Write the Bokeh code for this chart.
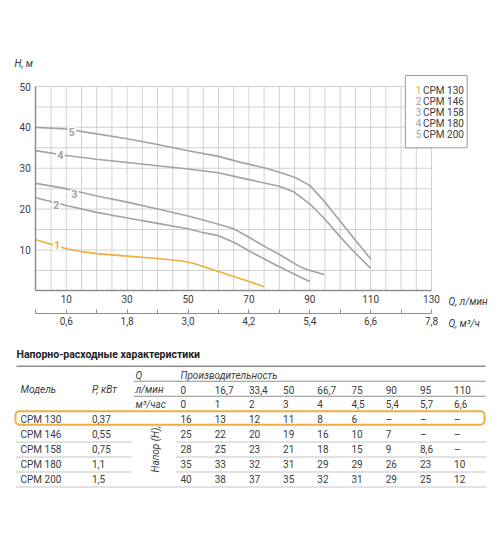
from math import pi

from bokeh.core.properties import value
from bokeh.embed import file_html
from bokeh.models import FixedTicker, LinearAxis, Range1d
from bokeh.plotting import figure
from bokeh.resources import INLINE

FONT = "Roboto"
TXT = "#3c3c3c"
GRAY = "#a3a3a3"
ORANGE = "#f0ae3e"
AXIS = "#8f8f8f"
GRID = "#d2d2d2"
DOT = "#8a8a8a"

# --- данные графика (Q, л/мин -> H, м) ---
q1 = [0, 5, 10, 15, 20, 30, 40, 48, 52, 60, 70, 75]
h1 = [12.5, 11.4, 10.3, 9.6, 9.1, 8.5, 7.9, 7.3, 6.7, 4.7, 2.3, 1.0]
q2 = [0, 10, 20, 30, 40, 50, 54, 60, 65, 70, 76, 80, 87, 90]
h2 = [22.8, 20.9, 19.2, 17.8, 16.5, 15.2, 14.4, 13.5, 11.9, 9.8, 7.4, 5.9, 3.3, 2.3]
q3 = [0, 10, 20, 30, 40, 50, 54, 60, 65, 70, 76, 80, 87, 90, 94.7]
h3 = [26.3, 25.0, 23.2, 21.7, 20.0, 18.3, 17.5, 16.3, 15.2, 13.1, 10.5, 8.9, 5.8, 5.0, 4.0]
q4 = [0, 10, 20, 30, 40, 50, 60, 67, 75, 80, 85, 90, 95, 100, 105, 110]
h4 = [34.3, 33.1, 32.2, 31.4, 30.6, 29.8, 28.9, 27.7, 26.4, 25.6, 24.1, 21.3, 17.5, 13.2, 9.2, 5.5]
q5 = [0, 10, 20, 30, 40, 50, 60, 67, 75, 80, 85, 90, 95, 100, 105, 110]
h5 = [40.0, 39.6, 38.4, 37.2, 35.8, 34.3, 32.9, 31.5, 30.1, 29.0, 27.8, 25.8, 21.7, 17.0, 12.4, 7.8]

curve_nums = ["1", "2", "3", "4", "5"]
curve_lab_q = [7.0, 6.7, 12.7, 8.1, 11.8]
curve_lab_h = [11.2, 21.0, 23.6, 33.2, 38.9]
models = ["CPM 130", "CPM 146", "CPM 158", "CPM 180", "CPM 200"]

q_ticks = [10, 30, 50, 70, 90, 110, 130]
q_minor = [0, 20, 40, 60, 80, 100, 120]
m3h_labels = ["0,6", "1,8", "3,0", "4,2", "5,4", "6,6", "7,8"]
h_ticks = [10, 20, 30, 40, 50]
grid_q = list(range(5, 131, 5))
grid_h = list(range(5, 51, 5))

# --- данные таблицы ---
power = ["0,37", "0,55", "0,75", "1,1", "1,5"]
flow_lpm = ["0", "16,7", "33,4", "50", "66,7", "75", "90", "95", "110"]
flow_m3h = ["0", "1", "2", "3", "4", "4,5", "5,4", "5,7", "6,6"]
head_rows = [
    ["16", "13", "12", "11", "8", "6", "–", "–", "–"],
    ["25", "22", "20", "19", "16", "10", "7", "–", "–"],
    ["28", "25", "23", "21", "18", "15", "9", "8,6", "–"],
    ["35", "33", "32", "31", "29", "29", "26", "23", "10"],
    ["40", "38", "37", "35", "32", "31", "29", "25", "12"],
]

# ================= график =================
# рамка на весь холст, оси закреплены внутри (fixed_location)
p = figure(width=500, height=340, x_range=Range1d(-11.6, 152.66), y_range=Range1d(-12.16, 71.05),
           x_axis_type=None, y_axis_type=None, output_backend="svg", toolbar_location=None,
           min_border_left=0, min_border_right=0, min_border_top=0, min_border_bottom=0,
           outline_line_color=None)

# сетка через 5 единиц (тонкие полосы ~1px), только в пределах 0..130 / 0..50
p.quad(left=[q - 0.165 for q in grid_q], right=[q + 0.165 for q in grid_q],
       bottom=[0] * len(grid_q), top=[50] * len(grid_q), fill_color=GRID, line_color=None)
p.quad(left=[0] * len(grid_h), right=[130] * len(grid_h),
       bottom=[h - 0.123 for h in grid_h], top=[h + 0.123 for h in grid_h],
       fill_color=GRID, line_color=None)

axis_style = dict(major_tick_out=0, minor_tick_out=0, axis_line_color=AXIS,
                  major_tick_line_color=AXIS, minor_tick_line_color=AXIS,
                  major_label_text_font=FONT, major_label_text_font_size="10px",
                  major_label_text_color=TXT)

ay = LinearAxis(ticker=FixedTicker(ticks=h_ticks), bounds=(0, 50), fixed_location=0,
                major_tick_in=0, minor_tick_in=0, major_label_standoff=5, axis_line_width=1.5,
                **axis_style)
p.add_layout(ay, "left")

ax1 = LinearAxis(ticker=FixedTicker(ticks=q_ticks), bounds=(0, 130), fixed_location=0,
                 major_tick_in=0, minor_tick_in=0, major_label_standoff=4, axis_line_width=1.5,
                 **axis_style)
p.add_layout(ax1, "below")

ax2 = LinearAxis(ticker=FixedTicker(ticks=q_ticks, minor_ticks=q_minor), bounds=(0, 130),
                 fixed_location=-5.48, major_label_overrides=dict(zip(q_ticks, m3h_labels)),
                 major_tick_in=4, minor_tick_in=4, major_label_standoff=4, axis_line_width=1,
                 **axis_style)
p.add_layout(ax2, "below")

for qs, hs, col in [(q5, h5, GRAY), (q4, h4, GRAY), (q3, h3, GRAY), (q2, h2, GRAY), (q1, h1, ORANGE)]:
    p.line(qs, hs, line_color=col, line_width=1.6)

p.text(x=curve_lab_q, y=curve_lab_h, text=curve_nums, text_color=[ORANGE, GRAY, GRAY, GRAY, GRAY],
       text_font=value(FONT), text_font_size="11px", text_font_style="bold", text_align="center",
       text_baseline="middle", background_fill_color="white", padding=1)

# легенда
p.quad(left=[121.4], right=[141.7], top=[52.7], bottom=[35.0], fill_color="white",
       line_color="#9a9a9a", line_width=1)
leg_y = [49.1 - 2.7 * i for i in range(5)]
p.text(x=[124.8] * 5, y=leg_y, text=curve_nums, text_color=[ORANGE, GRAY, GRAY, GRAY, GRAY],
       text_font=value(FONT), text_font_size="10px", text_baseline="middle")
p.text(x=[127.2] * 5, y=leg_y, text=models, text_color=TXT,
       text_font=value(FONT), text_font_size="10px", text_baseline="middle")

# подписи осей
p.text(x=[-7.0, 135.6, 135.6], y=[55.6, -2.55, -8.0], text=["H, м", "Q, л/мин", "Q, м³/ч"],
       text_font=value(FONT), text_font_size="10px", text_font_style="italic", text_color=TXT,
       text_baseline="middle")

# ================= таблица =================
t = figure(width=500, height=192, x_range=Range1d(0, 500), y_range=Range1d(532, 340),
           x_axis_type=None, y_axis_type=None, output_backend="svg", toolbar_location=None,
           min_border_left=0, min_border_right=0, min_border_top=0, min_border_bottom=0,
           outline_line_color=None)
t.xgrid.visible = False
t.ygrid.visible = False

t.text(x=[16], y=[354], text=["Напорно-расходные характеристики"], text_color="#222",
       text_font=value(FONT), text_font_size="10.5px", text_font_style="bold", text_baseline="middle")

# сплошные линейки шапки
t.quad(left=[16, 133, 133], right=[485, 485, 485], top=[365, 380.2, 395.2], bottom=[366.6, 381.2, 396.2],
       fill_color=AXIS, line_color=None)
# пунктир между строками
for y, x0, x1 in [(441.5, 16, 132), (456.5, 16, 132), (471.5, 16, 132),
                  (441.5, 176, 485), (456.5, 176, 485), (471.5, 176, 485), (486.5, 16, 485)]:
    t.line([x0, x1], [y, y], line_color=DOT, line_width=1, line_dash="1 1")

col_x = [180 + 34.2 * i for i in range(len(flow_lpm))]
row_y = [418.7 + 15 * i for i in range(len(models))]

common = dict(text_font=value(FONT), text_font_size="10px", text_color=TXT, text_baseline="middle")
t.text(x=[155], y=[472], text=["Напор (Н), м"], angle=pi / 2, text_font_style="italic", **common)

t.quad(left=[15], right=[484], top=[410.7], bottom=[424.3], fill_color="white", line_color=ORANGE,
       line_width=2, border_radius=4)

t.text(x=[135, 180], y=[375, 375], text=["Q", "Производительность"], text_font_style="italic", **common)
t.text(x=[20, 91.5, 135], y=[389.3] * 3, text=["Модель", "P, кВт", "л/мин"], text_font_style="italic", **common)
t.text(x=[135], y=[403.7], text=["м³/час"], text_font_style="italic", **common)
t.text(x=col_x, y=[389.3] * len(col_x), text=flow_lpm, **common)
t.text(x=col_x, y=[403.7] * len(col_x), text=flow_m3h, **common)
t.text(x=[20] * 5, y=row_y, text=models, **common)
t.text(x=[91.5] * 5, y=row_y, text=power, **common)
for r, vals in zip(row_y, head_rows):
    t.text(x=col_x, y=[r] * len(vals), text=vals, **common)

open("out.html", "w").write(file_html([p, t], INLINE))
